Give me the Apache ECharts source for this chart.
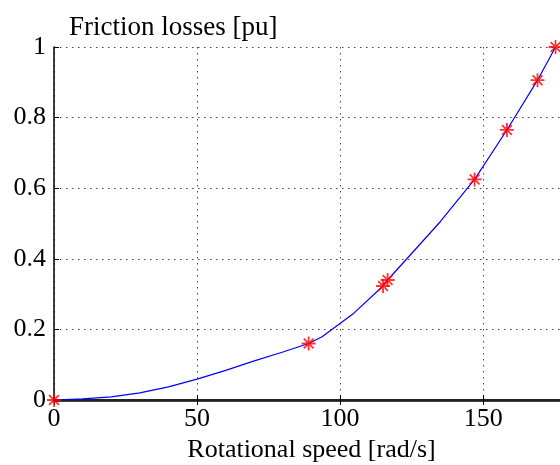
<!DOCTYPE html>
<html>
<head>
<meta charset="utf-8">
<script src="https://cdn.jsdelivr.net/npm/echarts@6/dist/echarts.min.js"></script>
<style>html,body{margin:0;padding:0;background:#fff;}#c{width:560px;height:465px;}</style>
</head>
<body>
<div id="c"></div>
<script>
var lineX = [0, 10, 20, 30, 40, 50, 60, 70, 80, 89, 93.7, 104.8, 115, 116.6, 125, 135, 147, 158.3, 169, 175.3];
var lineY = [0, 0.003, 0.009, 0.02, 0.037, 0.059, 0.084, 0.111, 0.136, 0.16, 0.179, 0.246, 0.323, 0.34, 0.415, 0.505, 0.625, 0.765, 0.906, 1.0];
var markX = [0, 89, 115, 116.6, 147, 158.3, 169, 175.3];
var markY = [0, 0.16, 0.323, 0.34, 0.625, 0.765, 0.906, 1.0];
var yTicks = [0, 0.2, 0.4, 0.6, 0.8, 1];
var xTicks = [0, 50, 100, 150];
var titleText = 'Friction losses [pu]';
var xName = 'Rotational speed [rad/s]';

var FONT = 'Liberation Serif';
var chart = echarts.init(document.getElementById('c'), null, {renderer: 'canvas'});
var gridLine = {show: true, lineStyle: {color: '#444', type: [1.5, 4.5], width: 1}};
chart.setOption({
  animation: false,
  backgroundColor: '#fff',
  title: {text: titleText, left: 64, top: 9, textStyle: {fontFamily: FONT, fontSize: 27, fontWeight: 'normal', color: '#000'}},
  grid: {left: 54, top: 47, bottom: 65, right: -9, outerBoundsMode: 'none', containLabel: false},
  xAxis: [{
    type: 'value', min: 0, max: 180, interval: 50,
    name: xName, nameLocation: 'middle', nameGap: 31,
    nameTextStyle: {fontFamily: FONT, fontSize: 26, color: '#000'},
    axisLine: {show: true, onZero: false, lineStyle: {color: '#000', width: 2.5}},
    axisTick: {show: true, inside: true, length: 5, lineStyle: {color: '#000'}},
    axisLabel: {fontFamily: FONT, fontSize: 26, color: '#000', margin: 6,
      formatter: function (v) { return xTicks.indexOf(v) >= 0 ? String(v) : ''; }},
    splitLine: gridLine
  }, {
    type: 'value', min: 0, max: 180, interval: 50, position: 'top',
    axisLine: {show: true, lineStyle: {color: '#222', width: 2}},
    axisTick: {show: true, inside: true, length: 5, lineStyle: {color: '#000'}},
    axisLabel: {show: false}, splitLine: {show: false}
  }],
  yAxis: [{
    type: 'value', min: 0, max: 1, interval: 0.2,
    axisLine: {show: true, onZero: false, lineStyle: {color: '#000', width: 1.5}},
    axisTick: {show: true, inside: true, length: 5, lineStyle: {color: '#000'}},
    axisLabel: {fontFamily: FONT, fontSize: 26, color: '#000', margin: 8,
      formatter: function (v) { return String(Math.round(v * 10) / 10); }},
    splitLine: gridLine
  }],
  series: [{
    type: 'line', data: lineX.map(function (x, i) { return [x, lineY[i]]; }),
    showSymbol: false, symbol: 'none', lineStyle: {color: '#0000ff', width: 1.2}, z: 3
  }, {
    type: 'scatter', data: markX.map(function (x, i) { return [x, markY[i]]; }),
    symbol: 'path://M10,0L10,20M0,10L20,10M3,3L17,17M3,17L17,3',
    symbolSize: 14,
    itemStyle: {color: 'rgba(0,0,0,0)', borderColor: '#ff0000', borderWidth: 1.8},
    z: 4, clip: false
  }]
});
</script>
</body>
</html>
